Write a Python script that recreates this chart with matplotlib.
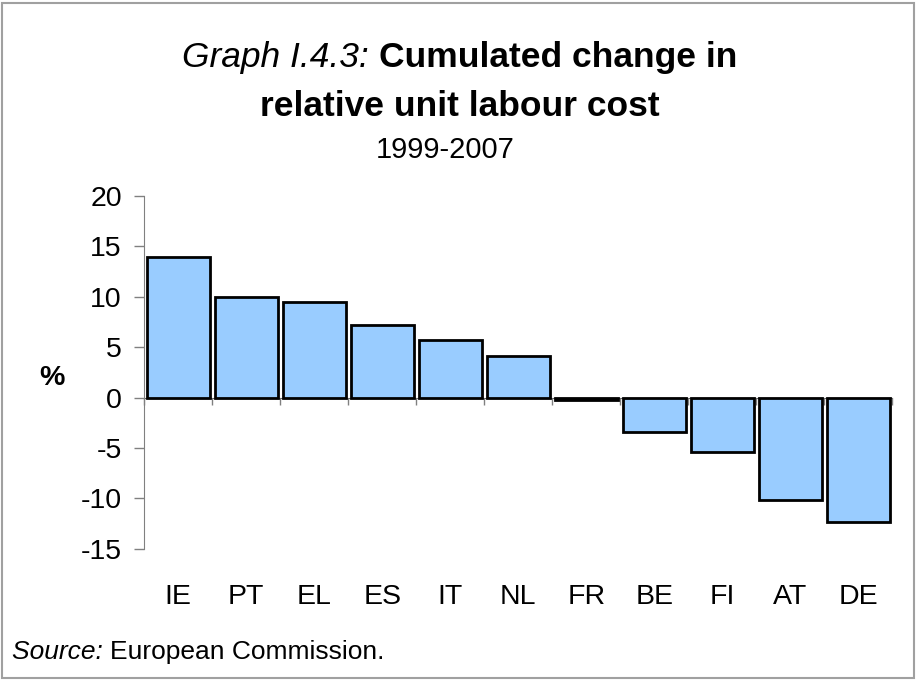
import matplotlib
matplotlib.use("Agg")
import matplotlib.pyplot as plt
from matplotlib.patches import Rectangle
import numpy as np

countries = ["IE", "PT", "EL", "ES", "IT", "NL", "FR", "BE", "FI", "AT", "DE"]
values = [13.9, 10.0, 9.5, 7.2, 5.7, 4.1, -0.2, -3.4, -5.45, -10.2, -12.35]
yticks = [20, 15, 10, 5, 0, -5, -10, -15]

plt.rcParams['font.family'] = ['Liberation Sans', 'DejaVu Sans']

fig = plt.figure(figsize=(9.18, 6.8), dpi=100)
ax = fig.add_axes([0.157, 0.193, 0.815, 0.519])

x = np.arange(len(countries))
ax.bar(x, values, width=0.93, color="#99CCFF", edgecolor="black", linewidth=2.0, zorder=2)

ax.set_xlim(-0.5, len(countries) - 0.5)
ax.set_ylim(-15, 20)
ax.set_yticks(yticks)
ax.set_yticklabels([str(v) for v in yticks], fontsize=20.5)
ax.tick_params(axis='y', direction='out', length=7, width=1, color='#808080', pad=9)

for s in ['top', 'right']:
    ax.spines[s].set_visible(False)
ax.spines['left'].set_color('#808080')
ax.spines['bottom'].set_position(('data', 0))
ax.spines['bottom'].set_color('#606060')
ax.spines['bottom'].set_zorder(1)

ax.set_xticks(np.arange(len(countries) + 1) - 0.5)
ax.set_xticklabels([])
ax.tick_params(axis='x', direction='out', length=5, width=1, color='#808080')

sec = ax.secondary_xaxis(-0.085)
sec.set_xticks(x)
sec.set_xticklabels(countries, fontsize=20.5)
sec.tick_params(length=0)
sec.spines['bottom'].set_visible(False)

fig.text(52 / 918, 1 - 378 / 680, "%", fontsize=20.5, fontweight='bold', ha='center', va='center')

# Title
fig.canvas.draw()
r = fig.canvas.get_renderer()
t1 = fig.text(0, 1 - 58 / 680, "Graph I.4.3: ", fontsize=25.5, fontstyle='italic', va='center', ha='left')
t2 = fig.text(0, 1 - 58 / 680, "Cumulated change in", fontsize=25.5, fontweight='bold', va='center', ha='left')
w1 = t1.get_window_extent(r).width
w2 = t2.get_window_extent(r).width
cx = 460
start = cx - (w1 + w2) / 2
t1.set_x(start / 918)
t2.set_x((start + w1) / 918)
fig.text(cx / 918, 1 - 106 / 680, "relative unit labour cost", fontsize=25.5, fontweight='bold', ha='center', va='center')
fig.text(445 / 918, 1 - 150 / 680, "1999-2007", fontsize=21, ha='center', va='center')

# Source
s1 = fig.text(12 / 918, 1 - 652 / 680, "Source: ", fontsize=19, fontstyle='italic', va='center', ha='left')
ws = s1.get_window_extent(r).width
fig.text((12 + ws) / 918, 1 - 652 / 680, "European Commission.", fontsize=19, va='center', ha='left')

fig.patches.append(Rectangle((0.002, 0.003), 0.994, 0.993, transform=fig.transFigure,
                             fill=False, edgecolor='#A0A0A0', linewidth=1.5))

fig.savefig("out.png", dpi=100)
